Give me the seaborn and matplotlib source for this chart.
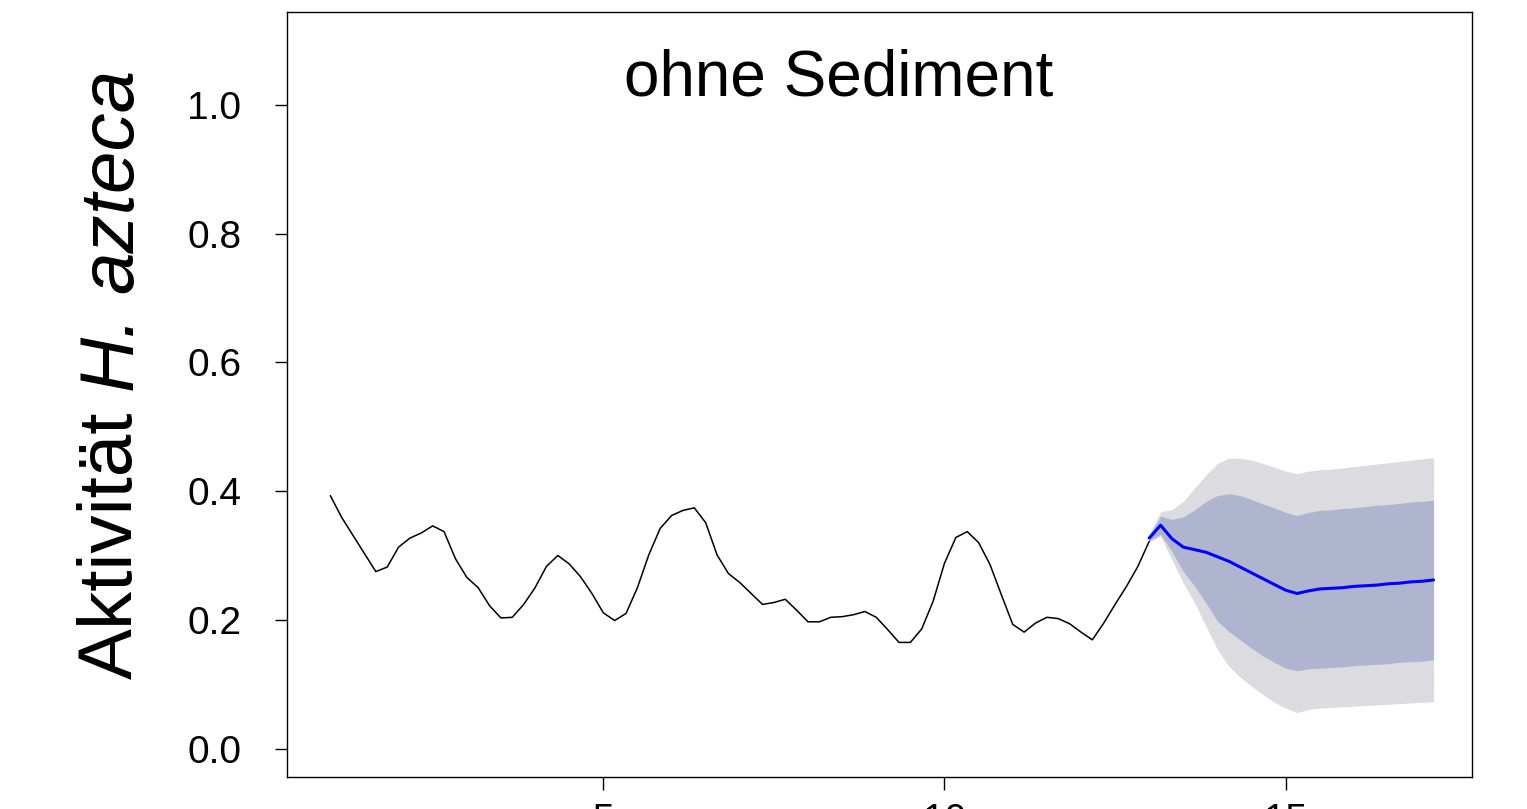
import numpy as np
import pandas as pd
import matplotlib
matplotlib.use("Agg")
import matplotlib.pyplot as plt
import seaborn as sns

# ---------------- data ----------------
obs_start = 1.0
obs_freq = 6
obs_values = [
    0.393, 0.359, 0.331, 0.303, 0.275, 0.282, 0.313, 0.327, 0.335, 0.346,
    0.337, 0.295, 0.266, 0.250, 0.222, 0.203, 0.204, 0.224, 0.250, 0.283,
    0.300, 0.287, 0.267, 0.241, 0.211, 0.199, 0.210, 0.250, 0.301, 0.342,
    0.362, 0.370, 0.374, 0.351, 0.301, 0.272, 0.258, 0.241, 0.224, 0.227,
    0.232, 0.215, 0.197, 0.197, 0.204, 0.205, 0.208, 0.213, 0.204, 0.185,
    0.165, 0.165, 0.186, 0.229, 0.288, 0.328, 0.337, 0.320, 0.286, 0.239,
    0.193, 0.181, 0.195, 0.204, 0.202, 0.194, 0.181, 0.169, 0.195, 0.224,
    0.252, 0.283, 0.322,
]

fc_start = 13.0
fc_mean = [
    0.327, 0.347, 0.326, 0.313, 0.309, 0.305, 0.298, 0.291, 0.282, 0.273,
    0.264, 0.255, 0.246, 0.241, 0.245, 0.248, 0.249, 0.250, 0.252, 0.253,
    0.254, 0.256, 0.257, 0.259, 0.260, 0.262,
]
fc_hi95 = [
    0.333, 0.368, 0.371, 0.384, 0.405, 0.425, 0.443, 0.451, 0.451, 0.448,
    0.443, 0.437, 0.431, 0.427, 0.431, 0.433, 0.434, 0.436, 0.438, 0.440,
    0.442, 0.444, 0.446, 0.448, 0.450, 0.452,
]
fc_hi80 = [
    0.331, 0.361, 0.356, 0.360, 0.371, 0.384, 0.393, 0.396, 0.393, 0.387,
    0.380, 0.374, 0.367, 0.362, 0.367, 0.370, 0.371, 0.373, 0.374, 0.376,
    0.378, 0.379, 0.381, 0.383, 0.384, 0.386,
]
fc_lo80 = [
    0.323, 0.333, 0.306, 0.275, 0.252, 0.226, 0.198, 0.182, 0.169, 0.156,
    0.144, 0.134, 0.125, 0.121, 0.124, 0.125, 0.126, 0.127, 0.129, 0.130,
    0.131, 0.132, 0.134, 0.135, 0.136, 0.138,
]
fc_lo95 = [
    0.321, 0.330, 0.293, 0.257, 0.226, 0.190, 0.154, 0.128, 0.111, 0.097,
    0.084, 0.072, 0.063, 0.056, 0.061, 0.063, 0.064, 0.065, 0.066, 0.067,
    0.068, 0.069, 0.070, 0.071, 0.072, 0.073,
]

x_ticks = [5, 10, 15]
y_ticks = [0.0, 0.2, 0.4, 0.6, 0.8, 1.0]
y_ticklabels = ["0.0", "0.2", "0.4", "0.6", "0.8", "1.0"]
title_text = "ohne Sediment"
ylabel_parts = ["Aktivität", "H.", "azteca"]
ylabel_italic = [False, True, True]

# time index (regular series)
obs_t = obs_start + np.arange(len(obs_values)) / obs_freq
fc_t = fc_start + np.arange(len(fc_mean)) / obs_freq
obs_df = pd.DataFrame({"t": obs_t, "v": obs_values})
fc_df = pd.DataFrame({"t": fc_t, "mean": fc_mean, "lo80": fc_lo80,
                      "hi80": fc_hi80, "lo95": fc_lo95, "hi95": fc_hi95})

# ---------------- style ----------------
sns.set_style("ticks")
plt.rcParams["font.family"] = ["Liberation Sans", "DejaVu Sans"]

W, H = 1527, 809
fig = plt.figure(figsize=(W / 100, H / 100), dpi=100)
L, R, T, B = 287, 1472, 12, 777
ax = fig.add_axes([L / W, 1 - B / H, (R - L) / W, (B - T) / H])

ax.fill_between(fc_df["t"], fc_df["lo95"], fc_df["hi95"], color="#DBDBE0", lw=0)
ax.fill_between(fc_df["t"], fc_df["lo80"], fc_df["hi80"], color="#B0B5CF", lw=0)
sns.lineplot(data=obs_df, x="t", y="v", ax=ax, color="black", lw=1.1)
sns.lineplot(data=fc_df, x="t", y="mean", ax=ax, color="#0000FF", lw=2.2)

ax.set_xlim(0.365, 17.73)
ax.set_ylim(-0.044, 1.144)
ax.set_xticks(x_ticks)
ax.set_xticklabels([str(v) for v in x_ticks])
ax.set_yticks(y_ticks)
ax.set_yticklabels(y_ticklabels)
ax.set_xlabel("")
ax.set_ylabel("")
ax.tick_params(axis="both", direction="out", length=9, width=1,
               color="black", labelsize=28, labelcolor="black")
ax.tick_params(axis="y", pad=24)
ax.tick_params(axis="x", pad=10)
for s in ax.spines.values():
    s.set_visible(True)
    s.set_color("black")
    s.set_linewidth(1.0)

fig.text(839 / W, 1 - 95 / H, title_text, ha="center", va="baseline",
         fontsize=46, color="black")

# rotated y-label, built from upright + italic pieces placed one after another
renderer = fig.canvas.get_renderer()
lab_fs = 55
t1 = fig.text(0, 0, "a a", fontsize=lab_fs)
t2 = fig.text(0, 0, "aa", fontsize=lab_fs)
space_px = (t1.get_window_extent(renderer).width
            - t2.get_window_extent(renderer).width)
t1.remove()
t2.remove()

y_cursor = 679.0  # pixel row (from top) where label begins
for txt, ital in zip(ylabel_parts, ylabel_italic):
    t = fig.text(132 / W, 1 - y_cursor / H, txt, rotation=90,
                 rotation_mode="anchor", ha="left", va="baseline",
                 fontsize=lab_fs, color="black",
                 fontstyle="italic" if ital else "normal")
    bb = t.get_window_extent(renderer)
    y_cursor -= bb.height + space_px

fig.savefig("out.png", dpi=100)
